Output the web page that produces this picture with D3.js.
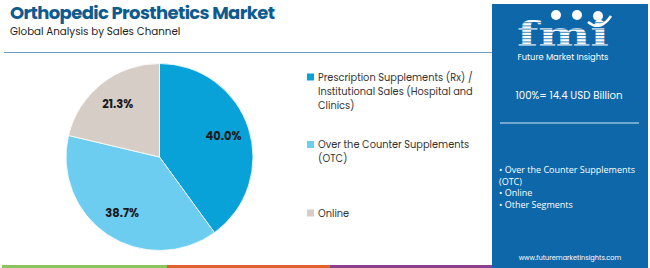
<!DOCTYPE html>
<html>
<head>
<meta charset="utf-8">
<script src="https://cdn.jsdelivr.net/npm/d3@7"></script>
<style>
  body { margin: 0; background: #fff; }
  svg { display: block; }
</style>
</head>
<body>
<svg id="vis"></svg>
<script>
// Datos del gráfico
const categorias = [
    "Prescription Supplements (Rx) / Institutional Sales (Hospital and Clinics)",
    "Over the Counter Supplements (OTC)",
    "Online"
];
const valores = [40.0, 38.7, 21.3];
const etiquetasLeyenda = [
    ["Prescription Supplements (Rx) /", "Institutional Sales (Hospital and", "Clinics)"],
    ["Over the Counter Supplements", "(OTC)"],
    ["Online"]
];
const colores = ["#08a2d9", "#6ccdf1", "#d7cdc7"];
const segmentosPanel = ["• Over the Counter Supplements", "(OTC)", "• Online", "• Other Segments"];

const WIDTH = 650;
const HEIGHT = 268;
const FONT = "Poppins, Lato, 'Open Sans', sans-serif";

const svg = d3.select("#vis")
    .attr("width", WIDTH)
    .attr("height", HEIGHT)
    .style("font-family", FONT);

// Título
svg.append("text")
    .attr("x", 10).attr("y", 19)
    .attr("fill", "#0f5b8e")
    .attr("font-size", 18)
    .attr("font-weight", 700)
    .attr("textLength", 265)
    .text("Orthopedic Prosthetics Market");

svg.append("text")
    .attr("x", 10).attr("y", 35)
    .attr("fill", "#222")
    .attr("font-size", 10.3)
    .text("Global Analysis by Sales Channel");

// Línea bajo el título
svg.append("line")
    .attr("x1", 4).attr("x2", 492)
    .attr("y1", 52.5).attr("y2", 52.5)
    .attr("stroke", "#6b9ec4")
    .attr("stroke-width", 1.2);

// Franja inferior
const franja = [["#8bc45a", 2, 167], ["#e2612f", 167, 330], ["#8e3f8e", 330, 494]];
svg.selectAll("rect.franja")
    .data(franja)
    .join("rect")
    .attr("class", "franja")
    .attr("x", d => d[1])
    .attr("y", 265)
    .attr("width", d => d[2] - d[1])
    .attr("height", 3)
    .attr("fill", d => d[0]);

// Pie
const cx = 159.5, cy = 157, R = 93.5;
const pie = d3.pie().sort(null).value(d => d);
const arcos = pie(valores);
const arco = d3.arc().innerRadius(0).outerRadius(R);
const arcoEtiqueta = d3.arc().innerRadius(R * 0.72).outerRadius(R * 0.72);

const contenedorPie = svg.append("g")
    .attr("transform", `translate(${cx}, ${cy})`);

contenedorPie.selectAll("path")
    .data(arcos)
    .join("path")
    .attr("d", arco)
    .attr("fill", (d, i) => colores[i])
    .attr("stroke", "#fff")
    .attr("stroke-width", 0.8);

contenedorPie.selectAll("text")
    .data(arcos)
    .join("text")
    .attr("transform", d => `translate(${arcoEtiqueta.centroid(d)})`)
    .attr("text-anchor", "middle")
    .attr("dy", "0.35em")
    .attr("font-size", 11.5)
    .attr("font-weight", 700)
    .attr("fill", "#1a1a1a")
    .text(d => d.value.toFixed(1) + "%");

// Leyenda
const posLeyenda = [80.5, 148, 216.5];
const leyenda = svg.append("g");
etiquetasLeyenda.forEach((lineas, i) => {
    leyenda.append("rect")
        .attr("x", 307).attr("y", posLeyenda[i] - 7)
        .attr("width", 7).attr("height", 7)
        .attr("fill", colores[i]);
    const t = leyenda.append("text")
        .attr("x", 318).attr("y", posLeyenda[i])
        .attr("font-size", 9.8)
        .attr("fill", "#333");
    lineas.forEach((l, j) => {
        t.append("tspan")
            .attr("x", 318)
            .attr("dy", j === 0 ? 0 : 14.3)
            .text(l);
    });
});

// Panel derecho
const panel = svg.append("g");
panel.append("rect")
    .attr("x", 492).attr("y", 4)
    .attr("width", 156).attr("height", 264)
    .attr("fill", "#0e67a9");

// Logo fmi
const logo = panel.append("g");
logo.append("text")
    .attr("x", 563).attr("y", 46)
    .attr("text-anchor", "middle")
    .attr("font-family", "'DejaVu Serif', serif")
    .attr("font-weight", 700)
    .attr("font-size", 34)
    .attr("fill", "#fff")
    .attr("textLength", 92)
    .attr("lengthAdjust", "spacingAndGlyphs")
    .text("fmi");
d3.range(19, 47, 3.2).forEach(y => {
    logo.append("rect")
        .attr("x", 512).attr("y", y)
        .attr("width", 104).attr("height", 1)
        .attr("fill", "#0e67a9")
        .attr("opacity", 0.8);
});
[[556, 15], [577, 15], [598, 16]].forEach(p => {
    logo.append("circle")
        .attr("cx", p[0]).attr("cy", p[1]).attr("r", 5)
        .attr("fill", "#fff");
});
logo.append("path")
    .attr("d", "M588,22 Q600,32 611,16")
    .attr("fill", "none")
    .attr("stroke", "#fff")
    .attr("stroke-width", 2.5);
logo.append("text")
    .attr("x", 563).attr("y", 60)
    .attr("text-anchor", "middle")
    .attr("font-size", 8.3)
    .attr("fill", "#fff")
    .text("Future Market Insights");

panel.append("text")
    .attr("x", 569).attr("y", 99)
    .attr("text-anchor", "middle")
    .attr("font-size", 10.2)
    .attr("fill", "#fff")
    .text("100%= 14.4 USD Billion");

panel.append("line")
    .attr("x1", 500).attr("x2", 639)
    .attr("y1", 123).attr("y2", 123)
    .attr("stroke", "#d8e8f4")
    .attr("stroke-width", 1);

panel.selectAll("text.seg")
    .data(segmentosPanel)
    .join("text")
    .attr("class", "seg")
    .attr("x", 499)
    .attr("y", (d, i) => 173 + i * 11.7)
    .attr("font-family", "'Open Sans', sans-serif")
    .attr("font-size", 9)
    .attr("fill", "#fff")
    .text(d => d);

panel.append("text")
    .attr("x", 570).attr("y", 260)
    .attr("text-anchor", "middle")
    .attr("font-size", 6.6)
    .attr("fill", "#fff")
    .text("www.futuremarketinsights.com");
</script>
</body>
</html>
